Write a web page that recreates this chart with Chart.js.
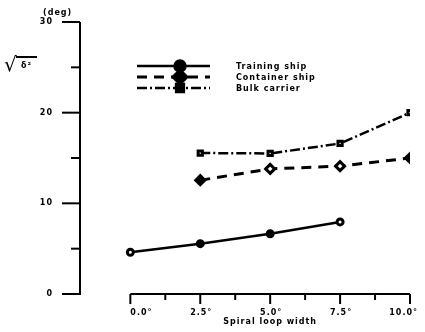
<!DOCTYPE html>
<html>
<head>
<meta charset="utf-8">
<script src="https://cdn.jsdelivr.net/npm/chart.js@4"></script>
<style>
  html, body { margin: 0; padding: 0; background: #fff; }
  #wrap { width: 425px; height: 332px; }
</style>
</head>
<body>
<div id="wrap"><canvas id="grafico" width="425" height="332"></canvas></div>
<script>
// datos
const anchos = [0.0, 2.5, 5.0, 7.5, 10.0];
const buqueEscuela = [4.6, 5.55, 6.65, 7.95, null];
const portaContenedor = [null, 12.55, 13.8, 14.1, 15.0];
const graneleroSerie = [null, 15.55, 15.5, 16.6, 20.0];
const series = ['Training ship', 'Container ship', 'Bulk carrier'];
const ticksX = [0.0, 2.5, 5.0, 7.5, 10.0];
const ticksXMenores = [1.25, 3.75, 6.25, 8.75];
const ticksY = [0, 10, 20, 30];
const ticksYMenores = [5, 15, 25];

const fuente = 'bold 8px "DejaVu Sans", Arial, sans-serif';

function puntos(vals) {
    return anchos.map((x, i) => ({ x: x, y: vals[i] })).filter(p => p.y !== null);
}

// dibuja ejes, leyenda y textos usando las escalas del grafico
const ejesPlugin = {
    id: 'ejes',
    afterDraw(chart) {
        const ctx = chart.ctx;
        const sx = chart.scales.x;
        const sy = chart.scales.y;
        const ejeX = sx.getPixelForValue(-1.8);
        const y0 = sy.getPixelForValue(0);
        ctx.save();
        ctx.strokeStyle = '#000';
        ctx.fillStyle = '#000';
        ctx.lineCap = 'butt';

        // eje Y
        ctx.lineWidth = 2;
        ctx.beginPath();
        ctx.moveTo(ejeX, sy.getPixelForValue(30));
        ctx.lineTo(ejeX, y0 + 1);
        ctx.stroke();
        ctx.font = fuente;
        ctx.letterSpacing = '1px';
        ctx.textAlign = 'right';
        ctx.textBaseline = 'middle';
        ticksY.forEach(v => {
            const py = sy.getPixelForValue(v);
            ctx.beginPath();
            ctx.moveTo(ejeX - 18, py);
            ctx.lineTo(ejeX, py);
            ctx.stroke();
            ctx.fillText(String(v), ejeX - 27, py);
        });
        ticksYMenores.forEach(v => {
            const py = sy.getPixelForValue(v);
            ctx.beginPath();
            ctx.moveTo(ejeX - 9, py);
            ctx.lineTo(ejeX, py);
            ctx.stroke();
        });
        ctx.textAlign = 'left';
        ctx.fillText('(deg)', 43, 13);

        // titulo eje Y: raiz de delta cuadrado
        ctx.letterSpacing = '0px';
        ctx.font = '20px "DejaVu Sans", sans-serif';
        ctx.fillText('\u221A', 4, 66);
        ctx.lineWidth = 2;
        ctx.beginPath();
        ctx.moveTo(16, 57);
        ctx.lineTo(37, 57);
        ctx.stroke();
        ctx.font = fuente;
        ctx.letterSpacing = '1px';
        ctx.fillText('\u03B4\u00B2', 21, 66);

        // eje X
        const x0 = sx.getPixelForValue(0);
        const x1 = sx.getPixelForValue(10);
        ctx.lineWidth = 2;
        ctx.beginPath();
        ctx.moveTo(x0, y0);
        ctx.lineTo(x1, y0);
        ctx.stroke();
        ctx.textAlign = 'left';
        ctx.textBaseline = 'middle';
        ticksX.forEach(v => {
            const px = sx.getPixelForValue(v);
            ctx.beginPath();
            ctx.moveTo(px, y0);
            ctx.lineTo(px, y0 + 10);
            ctx.stroke();
            const txt = v.toFixed(1) + '\u00B0';
            const w = ctx.measureText(txt).width;
            let izq = px - w / 2 + 1;
            izq = Math.max(x0, Math.min(izq, 418 - w));
            ctx.fillText(txt, izq, y0 + 19);
        });
        ticksXMenores.forEach(v => {
            const px = sx.getPixelForValue(v);
            ctx.beginPath();
            ctx.moveTo(px, y0);
            ctx.lineTo(px, y0 + 6);
            ctx.stroke();
        });
        ctx.textAlign = 'center';
        ctx.fillText('Spiral loop width', (x0 + x1) / 2, y0 + 28);

        // leyenda
        const filas = [66, 77, 88];
        chart.data.datasets.forEach((ds, i) => {
            const py = filas[i];
            ctx.lineWidth = ds.borderWidth;
            ctx.setLineDash(ds.borderDash || []);
            ctx.beginPath();
            ctx.moveTo(137, py);
            ctx.lineTo(210, py);
            ctx.stroke();
            ctx.setLineDash([]);
            Chart.helpers.drawPoint(ctx, {
                pointStyle: ds.pointStyle,
                radius: ds.pointRadius + 2.5,
                rotation: 0,
                borderWidth: 1
            }, 180, py);
            ctx.fill();
            ctx.textAlign = 'left';
            ctx.font = fuente;
            ctx.fillText(ds.label, 236, py + 1);
        });
        ctx.restore();
    }
};

const ctx = document.getElementById('grafico').getContext('2d');
new Chart(ctx, {
    type: 'line',
    data: {
        datasets: [{
            label: series[0],
            data: puntos(buqueEscuela),
            borderColor: '#000',
            backgroundColor: '#000',
            pointBackgroundColor: ['#fff', '#000', '#000', '#fff'],
            borderWidth: 2.5,
            pointStyle: 'circle',
            pointRadius: 3,
            pointBorderWidth: 3
        }, {
            label: series[1],
            data: puntos(portaContenedor),
            borderColor: '#000',
            backgroundColor: '#000',
            pointBackgroundColor: ['#000', '#fff', '#fff', '#000'],
            borderWidth: 3,
            borderDash: [10, 7],
            pointStyle: 'rectRot',
            pointRadius: 4.5,
            pointBorderWidth: 3
        }, {
            label: series[2],
            data: puntos(graneleroSerie),
            borderColor: '#000',
            backgroundColor: '#000',
            pointBackgroundColor: '#fff',
            borderWidth: 2.5,
            borderDash: [10, 3, 2, 3],
            pointStyle: 'rect',
            pointRadius: 3,
            pointBorderWidth: 3
        }]
    },
    options: {
        responsive: false,
        animation: false,
        layout: { padding: { left: 80, right: 15, top: 22, bottom: 38 } },
        plugins: { legend: { display: false }, tooltip: { enabled: false } },
        scales: {
            x: { type: 'linear', min: -1.8, max: 10, display: false },
            y: { type: 'linear', min: 0, max: 30, display: false }
        }
    },
    plugins: [ejesPlugin]
});
</script>
</body>
</html>
